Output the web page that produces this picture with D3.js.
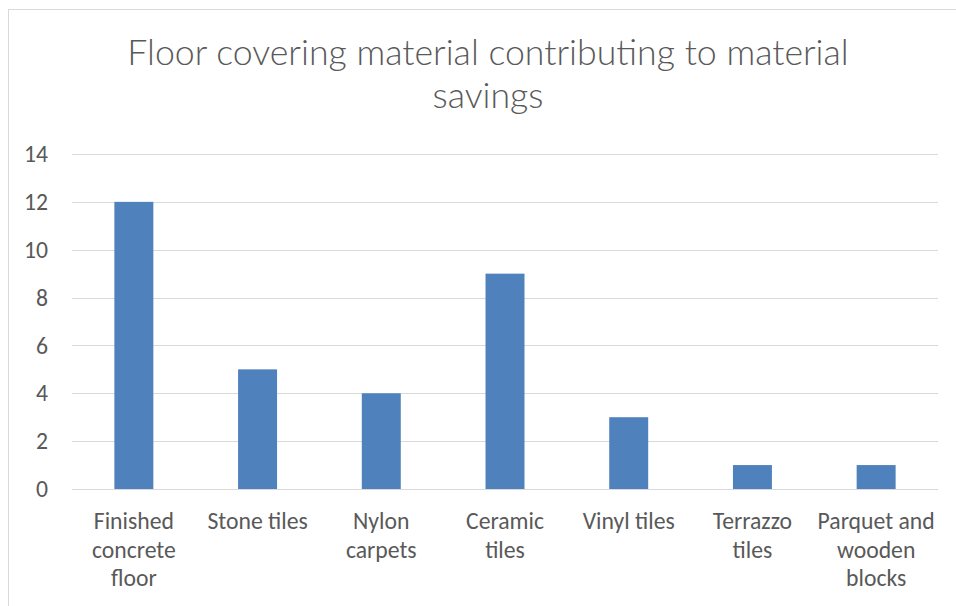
<!DOCTYPE html>
<html>
<head>
<meta charset="utf-8">
<script src="https://cdn.jsdelivr.net/npm/d3@7"></script>
<style>
  html, body { margin: 0; padding: 0; background: #fff; }
  svg { display: block; }
  text { font-family: Carlito, Lato, "Open Sans", sans-serif; fill: #595959; }
</style>
</head>
<body>
<svg id="chart" width="956" height="606"></svg>
<script>
// Floor covering materials and their counts
const categories = [
  "Finished concrete floor",
  "Stone tiles",
  "Nylon carpets",
  "Ceramic tiles",
  "Vinyl tiles",
  "Terrazzo tiles",
  "Parquet and wooden blocks"
];
const categoryLines = [
  ["Finished", "concrete", "floor"],
  ["Stone tiles"],
  ["Nylon", "carpets"],
  ["Ceramic", "tiles"],
  ["Vinyl tiles"],
  ["Terrazzo", "tiles"],
  ["Parquet and", "wooden", "blocks"]
];
const values = [12, 5, 4, 9, 3, 1, 1];
const yTicks = [0, 2, 4, 6, 8, 10, 12, 14];
const titleLines = ["Floor covering material contributing to material", "savings"];

const svg = d3.select("#chart");
const W = 956, H = 606;
const margin = { top: 154, right: 18, bottom: 117, left: 72 };
const labelFont = 23.7;

// chart frame
svg.append("rect")
  .attr("x", 8.5).attr("y", 9.5)
  .attr("width", 960).attr("height", 620)
  .attr("fill", "#fff").attr("stroke", "#d9d9d9").attr("stroke-width", 1);

const x = d3.scaleBand()
  .domain(categories)
  .range([margin.left, W - margin.right])
  .paddingInner(0.685).paddingOuter(0.3425);

const y = d3.scaleLinear()
  .domain([0, 14])
  .range([H - margin.bottom, margin.top]);

// gridlines
svg.append("g")
  .selectAll("line")
  .data(yTicks)
  .join("line")
  .attr("x1", margin.left).attr("x2", W - margin.right)
  .attr("y1", d => Math.round(y(d)) + 0.5).attr("y2", d => Math.round(y(d)) + 0.5)
  .attr("stroke", "#d9d9d9").attr("stroke-width", 1);

// y axis labels
const yAxis = d3.axisLeft(y).tickValues(yTicks).tickSize(0).tickPadding(0);
const gy = svg.append("g").attr("transform", `translate(48,0)`).call(yAxis);
gy.select(".domain").remove();
gy.selectAll("text")
  .attr("font-size", labelFont)
  .attr("fill", "#595959")
  .attr("text-anchor", "end")
  .style("font-family", "Carlito, Lato, 'Open Sans', sans-serif");

// bars
svg.append("g")
  .selectAll("rect")
  .data(values)
  .join("rect")
  .attr("x", (d, i) => x(categories[i]))
  .attr("width", x.bandwidth())
  .attr("y", d => y(d))
  .attr("height", d => y(0) - y(d))
  .attr("fill", "#4f81bd");

// x axis category labels
const gx = svg.append("g");
categories.forEach((c, i) => {
  const t = gx.append("text")
    .attr("x", x(c) + x.bandwidth() / 2)
    .attr("y", 529)
    .attr("text-anchor", "middle")
    .attr("font-size", labelFont);
  categoryLines[i].forEach((line, j) => {
    t.append("tspan")
      .attr("x", x(c) + x.bandwidth() / 2)
      .attr("dy", j === 0 ? 0 : 28.5)
      .text(line);
  });
});

// title, set in a light weight
const title = svg.append("text")
  .attr("x", 488)
  .attr("y", 65)
  .attr("text-anchor", "middle")
  .attr("font-size", 35.7)
  .attr("font-weight", 300)
  .style("font-family", "Lato, Carlito, sans-serif");
titleLines.forEach((line, j) => {
  title.append("tspan")
    .attr("x", 488)
    .attr("dy", j === 0 ? 0 : 42.5)
    .text(line);
});
</script>
</body>
</html>
